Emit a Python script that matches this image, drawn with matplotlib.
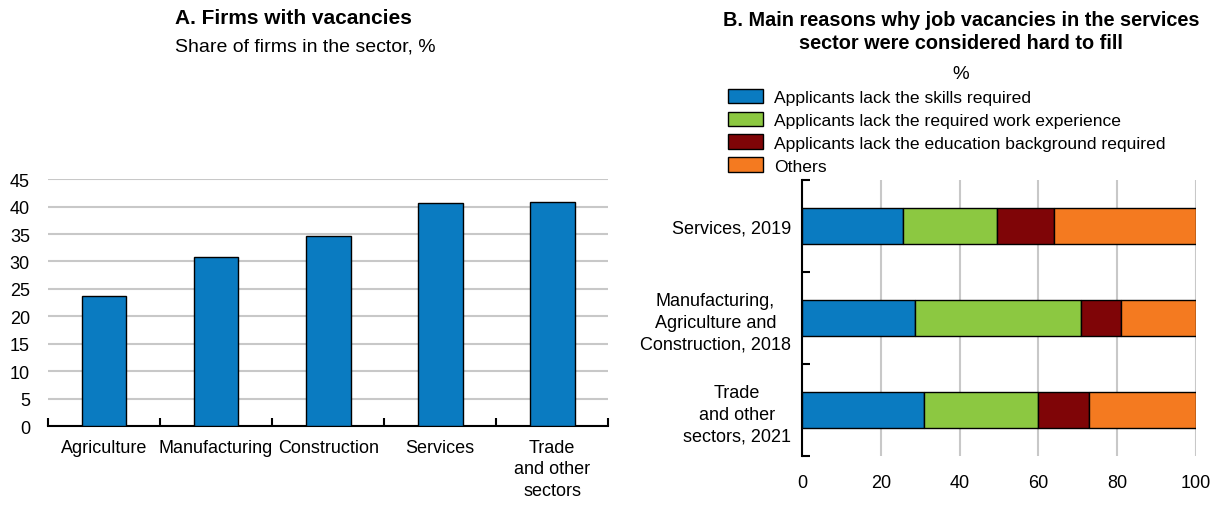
import matplotlib.pyplot as plt
from matplotlib import font_manager
import numpy as np

# Panel A: firms with vacancies
sectors = ["Agriculture", "Manufacturing", "Construction", "Services", "Trade\nand other\nsectors"]
vacancy_share = [23.7, 30.9, 34.7, 40.7, 40.9]

# Panel B: reasons why vacancies were hard to fill
groups = ["Services, 2019", "Manufacturing,\nAgriculture and\nConstruction, 2018", "Trade\nand other\nsectors, 2021"]
reasons = ["Applicants lack the skills required",
           "Applicants lack the required work experience",
           "Applicants lack the education background required",
           "Others"]
skills = [25.7, 28.7, 30.9]
experience = [23.8, 42.0, 28.9]
education = [14.5, 10.3, 13.1]
others = [36.0, 19.0, 27.1]

blue = "#0A7BC1"
green = "#8CC841"
dark_red = "#7F0507"
orange = "#F47A20"
grid_grey = "#C8C8C8"

names = {f.name for f in font_manager.fontManager.ttflist}
font = "Liberation Sans Narrow" if "Liberation Sans Narrow" in names else "Liberation Sans"
plt.rcParams["font.family"] = [font, "DejaVu Sans"]
plt.rcParams["font.size"] = 13

fig = plt.figure(figsize=(12.18, 5.06), dpi=100)

# ---------------- Panel A ----------------
axA = fig.add_axes([0.0394, 0.156, 0.46, 0.488])
x = np.arange(len(sectors))
axA.bar(x, vacancy_share, width=0.4, color=blue, edgecolor="black", linewidth=1, zorder=3)
axA.set_xlim(-0.5, len(sectors) - 0.5)
axA.set_ylim(0, 45)
axA.set_yticks(range(0, 46, 5))
axA.yaxis.grid(True, color=grid_grey, linewidth=1.5, zorder=0)
axA.set_axisbelow(True)
for s in ["left", "right", "top"]:
    axA.spines[s].set_visible(False)
axA.spines["bottom"].set_linewidth(1.5)
axA.tick_params(axis="y", length=0, pad=13)
# category boundaries get the tick marks, labels sit under the bars
axA.set_xticks(np.arange(-0.5, len(sectors), 1.0))
axA.set_xticklabels([])
axA.tick_params(axis="x", which="major", direction="in", length=6, width=1.5)
axA.set_xticks(x, minor=True)
axA.set_xticklabels(sectors, minor=True, linespacing=1.35)
axA.tick_params(axis="x", which="minor", length=0, pad=9)
fig.text(0.241, 0.963, "A. Firms with vacancies", ha="center", va="center",
         fontweight="bold", fontsize=15)
fig.text(0.251, 0.908, "Share of firms in the sector, %", ha="center", va="center", fontsize=14)

# ---------------- Panel B ----------------
axB = fig.add_axes([0.6585, 0.097, 0.3235, 0.545])
y = np.arange(len(groups))
left = np.zeros(len(groups))
for vals, col, lab in zip([skills, experience, education, others],
                          [blue, green, dark_red, orange], reasons):
    axB.barh(y, vals, left=left, height=0.4, color=col, edgecolor="black",
             linewidth=1, label=lab, zorder=3)
    left += np.array(vals)
axB.set_xlim(0, 100)
axB.set_ylim(len(groups) - 0.5, -0.5)
axB.set_xticks(range(0, 101, 20))
axB.xaxis.grid(True, color=grid_grey, linewidth=1.5, zorder=0)
axB.set_axisbelow(True)
for s in ["right", "top", "bottom"]:
    axB.spines[s].set_visible(False)
axB.spines["left"].set_linewidth(1.5)
axB.tick_params(axis="x", length=0, pad=13)
axB.set_yticks(np.arange(-0.5, len(groups), 1.0))
axB.set_yticklabels([])
axB.tick_params(axis="y", which="major", direction="in", length=6, width=1.5)
axB.set_yticks(y, minor=True)
axB.set_yticklabels(groups, minor=True, multialignment="center", linespacing=1.35)
axB.tick_params(axis="y", which="minor", length=0, pad=8)

fig.text(0.789, 0.937, "B. Main reasons why job vacancies in the services\nsector were considered hard to fill",
         ha="center", va="center", fontweight="bold", fontsize=14.3, linespacing=1.25)
fig.text(0.789, 0.852, "%", ha="center", va="center", fontsize=13.5)
handles, labels = axB.get_legend_handles_labels()
fig.legend(handles, labels, loc="upper left", bbox_to_anchor=(0.598, 0.823),
           frameon=False, fontsize=12.6, handlelength=2.0, handleheight=0.9,
           handletextpad=0.6, labelspacing=0.38, borderaxespad=0, borderpad=0)

fig.savefig("out.png", dpi=100)
